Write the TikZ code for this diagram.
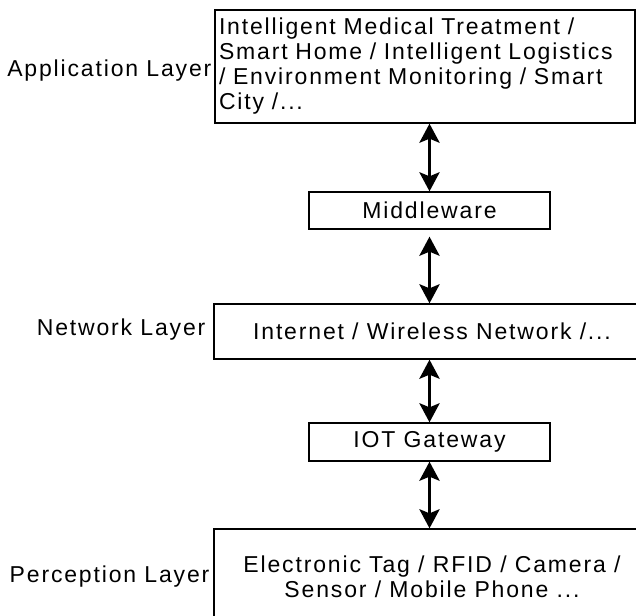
\documentclass[tikz,border=0pt]{standalone}
\usepackage{fontspec}
\setmainfont[LetterSpace=8]{Liberation Sans}
\usetikzlibrary{arrows.meta, positioning}
\tikzset{
  every picture/.style={font=\fontsize{23}{25}\selectfont, line width=1.3pt},
  layerbox/.style={draw, rectangle, align=center, inner sep=4pt},
  midbox/.style={draw, rectangle, minimum width=241pt, minimum height=37pt, inner sep=2pt},
  link/.style={{Stealth[length=19pt, width=20pt, inset=4pt]}-{Stealth[length=19pt, width=20pt, inset=4pt]}, line width=3.6pt},
  layername/.style={anchor=east, inner sep=1pt},
}

\begin{document}
\begin{tikzpicture}[x=1pt, y=-1pt]
  \useasboundingbox (0,0) rectangle (636,615);
  \clip (0,0) rectangle (636,615);
  % application layer
  \node[layerbox, align=left, text width=412pt, minimum height=113pt] (app) at (425,66.5) {Intelligent Medical Treatment /\\ Smart Home / Intelligent Logistics\\ / Environment Monitoring / Smart\\ City /...};
  \node[layername] (applbl) at (213,71) {Application Layer};
  % middleware
  \node[midbox] (mid) at (429.5,210.5) {Middleware};
  % network layer
  \node[layerbox, minimum width=436pt, minimum height=55pt] (net) at (432,331.5) {Internet / Wireless Network /...};
  \node[layername] (netlbl) at (207,330) {Network Layer};
  % gateway
  \node[midbox, minimum height=38pt] (gw) at (429.5,442) {IOT Gateway};
  % perception layer
  \node[layerbox, minimum width=436pt, minimum height=95pt] (per) at (432,576.5) {Electronic Tag / RFID / Camera /\\ Sensor / Mobile Phone ...};
  \node[layername] (perlbl) at (211,577) {Perception Layer};
  % links
  \draw[link] (app.south -| mid) -- (mid.north);
  \draw[link, shorten <=7pt] (mid.south) -- (net.north -| mid);
  \draw[link] (net.south -| gw) -- (gw.north);
  \draw[link] (gw.south) -- (per.north -| gw);
\end{tikzpicture}
\end{document}
